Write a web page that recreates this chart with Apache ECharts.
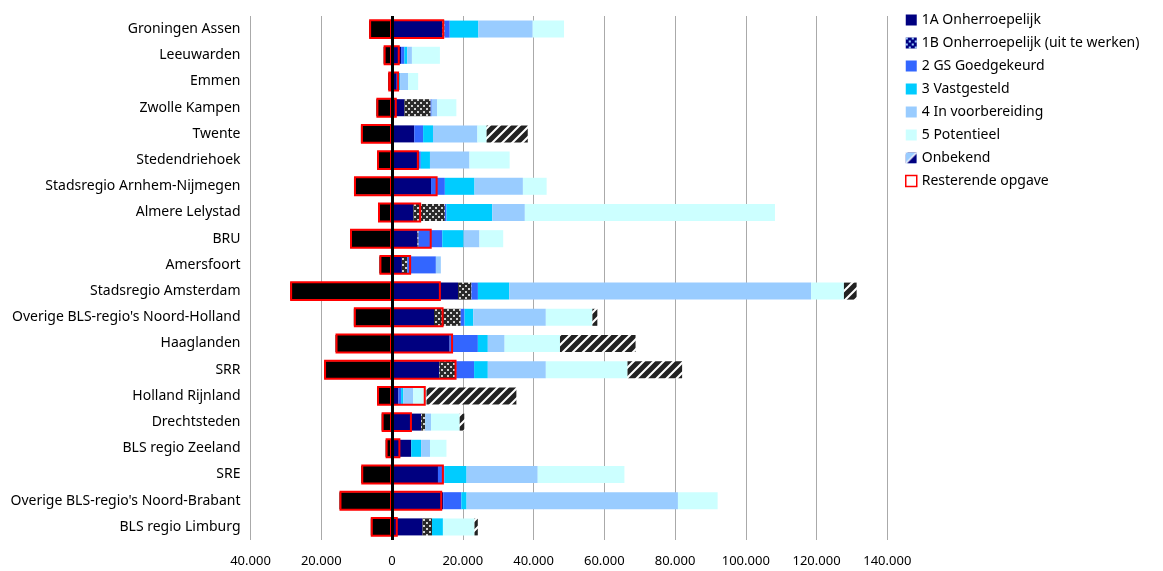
<!DOCTYPE html>
<html>
<head>
<meta charset="utf-8">
<script src="https://cdn.jsdelivr.net/npm/echarts@6/dist/echarts.min.js"></script>
<style>
html,body{margin:0;padding:0;background:#fff;}
#chart{width:1163px;height:571px;}
</style>
</head>
<body>
<div id="chart"></div>
<script>
const categories = ["Groningen Assen","Leeuwarden","Emmen","Zwolle Kampen","Twente","Stedendriehoek","Stadsregio Arnhem-Nijmegen","Almere Lelystad","BRU","Amersfoort","Stadsregio Amsterdam","Overige BLS-regio's Noord-Holland","Haaglanden","SRR","Holland Rijnland","Drechtsteden","BLS regio Zeeland","SRE","Overige BLS-regio's Noord-Brabant","BLS regio Limburg"];
const v1A = [14190, 2560, 1350, 3490, 6280, 7670, 11030, 6000, 7210, 2800, 18670, 11870, 16290, 13380, 1820, 8240, 5440, 12990, 14470, 8610];
const v1B = [650, 0, 0, 7440, 0, 0, 0, 8930, 280, 1510, 3780, 7550, 0, 4750, 0, 1120, 0, 0, 0, 2700];
const v2 = [1480, 930, 380, 280, 2510, 460, 3910, 460, 6710, 8090, 1830, 1080, 7980, 5070, 740, 0, 0, 1860, 5120, 0];
const v3 = [8100, 840, 550, 0, 2790, 2600, 8380, 12940, 6050, 0, 8850, 2480, 2810, 3880, 650, 0, 2790, 6230, 1490, 3080];
const v4 = [15360, 1300, 2320, 1580, 12560, 11170, 13680, 9220, 4470, 1400, 85340, 20500, 4750, 16400, 2790, 1670, 2510, 20110, 59740, 0];
const v5 = [8840, 7910, 2790, 5400, 2600, 11350, 6710, 70700, 6710, 0, 9270, 13160, 15650, 23090, 3750, 8100, 4650, 24500, 11220, 8930];
const vOnbekend = [0, 0, 0, 0, 11630, 0, 0, 0, 0, 0, 3590, 1400, 21360, 15430, 25400, 1300, 0, 0, 0, 930];
const restLinks = [-6470, -2370, -1070, -4420, -8790, -4230, -10750, -3960, -11870, -3560, -28800, -10790, -15970, -19210, -4230, -2930, -1810, -8700, -14850, -6000];
const restRechts = [14750, 2190, 2000, 1350, 510, 7590, 12890, 8240, 11220, 5400, 13810, 14570, 17260, 18240, 9540, 5630, 2370, 14660, 14190, 1630];
const xTicks = {min: -40000, max: 140000, interval: 20000};

function dotPattern(bg, fg) {
  const c = document.createElement('canvas');
  c.width = 6; c.height = 6;
  const g = c.getContext('2d');
  g.fillStyle = bg; g.fillRect(0, 0, 6, 6);
  g.fillStyle = fg; g.fillRect(0, 0, 2, 2); g.fillRect(3, 3, 2, 2);
  return {image: c, repeat: 'repeat'};
}
function stripePattern(bg, fg) {
  const s = 10;
  const c = document.createElement('canvas');
  c.width = s; c.height = s;
  const g = c.getContext('2d');
  g.fillStyle = bg; g.fillRect(0, 0, s, s);
  g.strokeStyle = fg; g.lineWidth = 5;
  g.beginPath();
  g.moveTo(-2, s + 2); g.lineTo(s + 2, -2);
  g.moveTo(-s/2 - 2, s/2 + 2); g.lineTo(s/2 + 2, -s/2 - 2);
  g.moveTo(s/2 - 2, 1.5*s + 2); g.lineTo(1.5*s + 2, s/2 - 2);
  g.stroke();
  return {image: c, repeat: 'repeat'};
}
function legendOnbekend() {
  const c = document.createElement('canvas');
  c.width = 11; c.height = 11;
  const g = c.getContext('2d');
  g.fillStyle = '#99CCFF'; g.fillRect(0, 0, 11, 11);
  g.fillStyle = '#000080';
  g.beginPath(); g.moveTo(11, 0); g.lineTo(11, 11); g.lineTo(0, 11); g.closePath(); g.fill();
  g.strokeStyle = '#fff'; g.lineWidth = 1.5;
  g.beginPath(); g.moveTo(0, 11); g.lineTo(11, 0); g.stroke();
  return {image: c, repeat: 'repeat'};
}

const fmt = v => String(Math.abs(v)).replace(/\B(?=(\d{3})+(?!\d))/g, '.');
const FONT = 'Noto Sans';

const chart = echarts.init(document.getElementById('chart'), null, {renderer: 'canvas'});
const barW = '65%';
const redW = '76%';
const redStyle = {color: 'rgba(0,0,0,0)', borderColor: '#FF0000', borderWidth: 2};

const option = {
  animation: false,
  grid: {left: 250.5, top: 16, width: 636.8, height: 524, containLabel: false},
  legend: {
    orient: 'vertical', left: 900, top: 8,
    itemWidth: 11, itemHeight: 11, itemGap: 9,
    textStyle: {fontFamily: FONT, fontSize: 14, color: '#000'},
    data: [
      {name: '1A Onherroepelijk', icon: 'rect'},
      {name: '1B Onherroepelijk (uit te werken)', icon: 'rect', itemStyle: {color: dotPattern('#000080', '#99CCFF')}},
      {name: '2 GS Goedgekeurd', icon: 'rect'},
      {name: '3 Vastgesteld', icon: 'rect'},
      {name: '4 In voorbereiding', icon: 'rect'},
      {name: '5 Potentieel', icon: 'rect'},
      {name: 'Onbekend', icon: 'rect', itemStyle: {color: legendOnbekend()}},
      {name: 'Resterende opgave', icon: 'rect', itemStyle: {color: '#fff', borderColor: '#FF0000', borderWidth: 1.5}}
    ]
  },
  xAxis: {
    type: 'value', min: xTicks.min, max: xTicks.max, interval: xTicks.interval,
    axisLine: {show: false}, axisTick: {show: false},
    splitLine: {show: true, lineStyle: {color: '#AAAAAA', width: 1}},
    axisLabel: {fontFamily: FONT, fontSize: 13, color: '#000', margin: 15, formatter: fmt}
  },
  yAxis: [
    {type: 'category', data: categories, inverse: true,
     axisLine: {show: false}, axisTick: {show: false},
     axisLabel: {fontFamily: FONT, fontSize: 14, color: '#000', margin: 10}},
    {type: 'category', data: categories, inverse: true, show: false}
  ],
  series: [
    {name: 'Resterende links', type: 'bar', stack: 'main', barWidth: barW, data: restLinks, itemStyle: {color: '#000'}},
    {name: '1A Onherroepelijk', type: 'bar', stack: 'main', barWidth: barW, data: v1A, itemStyle: {color: '#000080'}},
    {name: '1B Onherroepelijk (uit te werken)', type: 'bar', stack: 'main', barWidth: barW, data: v1B, itemStyle: {color: dotPattern('#2a2a2a', '#d0d0d0')}},
    {name: '2 GS Goedgekeurd', type: 'bar', stack: 'main', barWidth: barW, data: v2, itemStyle: {color: '#3366FF'}},
    {name: '3 Vastgesteld', type: 'bar', stack: 'main', barWidth: barW, data: v3, itemStyle: {color: '#00CCFF'}},
    {name: '4 In voorbereiding', type: 'bar', stack: 'main', barWidth: barW, data: v4, itemStyle: {color: '#99CCFF'}},
    {name: '5 Potentieel', type: 'bar', stack: 'main', barWidth: barW, data: v5, itemStyle: {color: '#CCFFFF'}},
    {name: 'Onbekend', type: 'bar', stack: 'main', barWidth: barW, data: vOnbekend, itemStyle: {color: stripePattern('#ffffff', '#222222')}},
    {name: 'Resterende opgave', type: 'bar', yAxisIndex: 1, stack: 'rest', barWidth: redW, z: 4, data: restLinks, itemStyle: redStyle},
    {name: 'Resterende opgave', type: 'bar', yAxisIndex: 1, stack: 'rest', barWidth: redW, z: 4, data: restRechts, itemStyle: redStyle},
    {name: 'nul', type: 'line', yAxisIndex: 1, data: [], z: 10, silent: true,
     markLine: {symbol: 'none', silent: true, label: {show: false},
       lineStyle: {color: '#000', width: 3, type: 'solid'}, data: [{xAxis: 0}]}}
  ]
};
chart.setOption(option);
</script>
</body>
</html>
